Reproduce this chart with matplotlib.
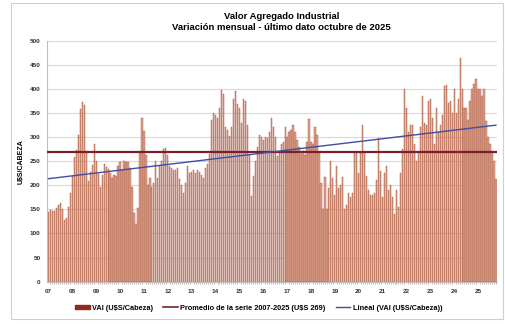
import matplotlib
matplotlib.use("Agg")
import matplotlib.pyplot as plt
import numpy as np
from matplotlib.patches import Rectangle, Patch
from matplotlib.lines import Line2D

# VAI mensual (U$S/Cabeza), ene-2007 a oct-2025
vai = [
    145, 148, 146, 147, 153, 160, 163, 150, 128, 133, 155, 185,   # 2007
    220, 258, 273, 305, 358, 373, 366, 272, 208, 228, 243, 285,   # 2008
    250, 224, 196, 222, 244, 238, 234, 225, 215, 222, 220, 240,   # 2009
    248, 232, 250, 248, 248, 235, 197, 142, 120, 152, 270, 340,   # 2010
    312, 262, 200, 215, 197, 205, 250, 215, 240, 250, 275, 278,   # 2011
    262, 240, 236, 232, 232, 236, 213, 200, 185, 205, 240, 226,   # 2012
    228, 232, 225, 232, 228, 222, 215, 236, 245, 265, 335, 350,   # 2013
    345, 340, 360, 398, 390, 320, 315, 303, 320, 380, 395, 368,   # 2014
    360, 330, 378, 375, 325, 265, 178, 220, 250, 280, 305, 300,   # 2015
    295, 300, 298, 310, 340, 320, 300, 260, 270, 285, 290, 320,   # 2016
    300, 310, 315, 326, 310, 295, 280, 265, 272, 262, 290, 337,   # 2017
    290, 285, 320, 305, 268, 205, 150, 218, 150, 195, 250, 215,   # 2018
    180, 240, 195, 200, 218, 150, 160, 185, 175, 185, 270, 268,   # 2019
    225, 270, 325, 270, 220, 190, 180, 180, 185, 210, 298, 230,   # 2020
    175, 225, 240, 190, 200, 175, 140, 190, 154, 225, 275, 400,   # 2021
    360, 310, 325, 325, 285, 250, 270, 320, 385, 330, 325, 375,   # 2022
    380, 340, 285, 360, 310, 325, 345, 405, 408, 370, 375, 350,   # 2023
    400, 350, 380, 465, 400, 360, 360, 335, 375, 400, 410, 420,   # 2024
    400, 400, 386, 400, 334, 300, 285, 272, 251, 213,             # 2025
]
year_labels = ["07", "08", "09", "10", "11", "12", "13", "14", "15", "16",
               "17", "18", "19", "20", "21", "22", "23", "24", "25"]
promedio = 269

plt.rcParams["font.family"] = ["Liberation Sans", "DejaVu Sans"]

x = np.arange(len(vai))
pend, orden = np.polyfit(x, vai, 1)  # tendencia lineal

fig = plt.figure(figsize=(5.05, 3.24), dpi=100)
fig.patches.append(Rectangle((11 / 505, 1 - 319 / 324), 492 / 505, 316 / 324,
                             transform=fig.transFigure, fill=False,
                             edgecolor="#d0d0d0", linewidth=0.8))
ax = fig.add_axes([0.094, 0.1306, 0.890, 0.7438])

ax.bar(x, vai, width=0.62, color="#dba48f", edgecolor="#a9503a", linewidth=0.3,
       zorder=2)
ax.axhline(promedio, color="#7a1f2b", linewidth=1.6, zorder=3)
ax.plot(x, orden + pend * x, color="#3b4ea6", linewidth=1.0, zorder=4)

ax.set_xlim(-0.5, len(vai) - 0.5)
ax.set_ylim(0, 500)
ax.set_yticks(np.arange(0, 501, 50))
ax.set_xticks(np.arange(0, len(vai), 12))
ax.set_xticklabels(year_labels)
ax.set_xticks(x, minor=True)
ax.tick_params(axis="both", labelsize=4.6, colors="#333333", length=0, pad=5)
ax.tick_params(axis="x", which="minor", length=1.5, color="#c08070", width=0.4)
for lab in ax.get_xticklabels() + ax.get_yticklabels():
    lab.set_fontweight("bold")
ax.grid(axis="y", color="#d9d9d9", linewidth=0.8, zorder=0)
ax.set_axisbelow(True)
for s in ["top", "right"]:
    ax.spines[s].set_visible(False)
ax.spines["left"].set_color("#bfbfbf")
ax.spines["bottom"].set_color("#bfbfbf")
ax.set_ylabel("U$S/CABEZA", fontsize=5, fontweight="bold", labelpad=4)

fig.text(0.558, 1 - 22 / 324, "Valor Agregado Industrial\nVariación mensual - último dato octubre de 2025",
         ha="center", va="center", fontsize=6.8, fontweight="bold", linespacing=1.3)

# leyenda
handles = [Patch(facecolor="#8e2a1f", edgecolor="#8e2a1f"),
           Line2D([], [], color="#7a1f2b", linewidth=1.2),
           Line2D([], [], color="#3b4ea6", linewidth=1.0)]
labels = ["VAI (U$S/Cabeza)", "Promedio de la serie 2007-2025 (U$S 269)",
          "Lineal (VAI (U$S/Cabeza))"]
fig.legend(handles, labels, loc="center", bbox_to_anchor=(0.512, 1 - 308 / 324),
           ncol=3, frameon=False, prop={"size": 5.3, "weight": "bold"},
           handlelength=2.0, handleheight=0.6, columnspacing=1.4, handletextpad=0.3)

fig.savefig("out.png", dpi=100)
